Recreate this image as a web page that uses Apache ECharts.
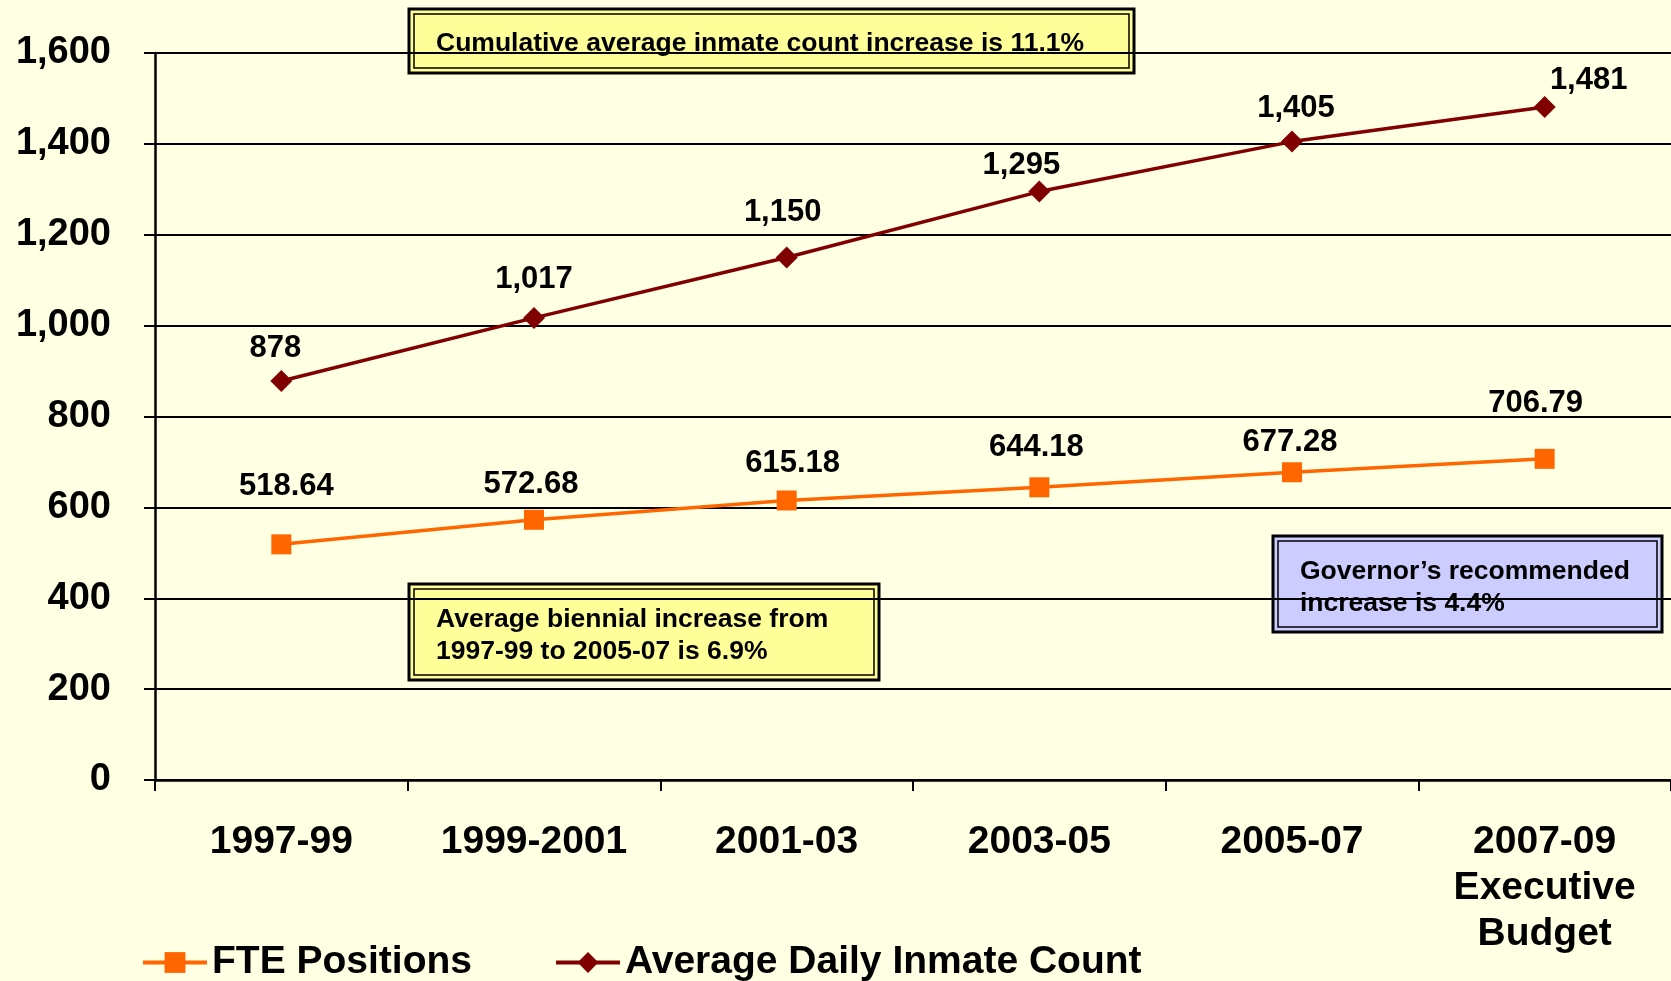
<!DOCTYPE html>
<html>
<head>
<meta charset="utf-8">
<script src="https://cdn.jsdelivr.net/npm/echarts@6/dist/echarts.min.js"></script>
<style>
	html, body { margin: 0; padding: 0; background: #FFFFE3; }
	#chart { width: 1671px; height: 981px; }
</style>
</head>
<body>
<div id="chart"></div>
<script>
// Data
const periods = ['1997-99', '1999-2001', '2001-03', '2003-05', '2005-07', '2007-09\nExecutive\nBudget'];
const ftePositions = [518.64, 572.68, 615.18, 644.18, 677.28, 706.79];
const inmateCount = [878, 1017, 1150, 1295, 1405, 1481];
const yTicks = [0, 200, 400, 600, 800, 1000, 1200, 1400, 1600];

// label nudges (px) so the numbers sit where the original put them
const fteLabelShift = [[5, -58], [-3, -35], [6, -37], [-3, -40], [-2, -30], [-9, -55]];
const inmateLabelShift = [[-6, -33], [0, -38], [-4, -45], [-18, -26], [4, -33], [44, -27]];

const FONT = '"Liberation Sans", Arial, sans-serif';

function withLabels(values, shifts, fmt) {
	return values.map(function (v, i) {
		return {
			value: v,
			label: { offset: shifts[i], formatter: fmt(v) }
		};
	});
}

function noteBox(x, y, w, h, fill, lines, textTop) {
	return {
		type: 'group',
		z: 100,
		children: [
			{ type: 'rect', shape: { x: x, y: y, width: w, height: h },
				style: { fill: fill, stroke: '#000', lineWidth: 3 } },
			{ type: 'rect', shape: { x: x + 5, y: y + 5, width: w - 10, height: h - 10 },
				style: { fill: 'none', stroke: '#000', lineWidth: 1.5 } },
			{ type: 'text', x: x + 27, y: textTop,
				style: { text: lines, fill: '#000', font: 'bold 26.5px ' + FONT, lineHeight: 32 } }
		]
	};
}

const chart = echarts.init(document.getElementById('chart'));

const option = {
	backgroundColor: '#FFFFE3',
	animation: false,
	grid: { left: 155, width: 1521, top: 53, bottom: 201, containLabel: false },
	legend: {
		left: 136,
		top: 938,
		itemWidth: 64,
		itemHeight: 26,
		itemGap: 82,
		lineStyle: { width: 4 },
		textStyle: { fontFamily: FONT, fontWeight: 'bold', fontSize: 39, color: '#000' },
		data: ['FTE Positions', 'Average Daily Inmate Count']
	},
	xAxis: {
		type: 'category',
		data: periods,
		boundaryGap: true,
		axisLine: { lineStyle: { color: '#000', width: 2.5 } },
		axisTick: { show: true, length: 11, lineStyle: { color: '#000', width: 2 } },
		axisLabel: {
			color: '#000', fontFamily: FONT, fontWeight: 'bold', fontSize: 39,
			lineHeight: 46, margin: 39, interval: 0
		}
	},
	yAxis: {
		type: 'value',
		min: yTicks[0],
		max: yTicks[yTicks.length - 1],
		interval: yTicks[1] - yTicks[0],
		axisLine: { show: true, lineStyle: { color: '#000', width: 2.5 } },
		axisTick: { show: true, length: 11, lineStyle: { color: '#000', width: 2 } },
		splitLine: { lineStyle: { color: '#000', width: 2 } },
		axisLabel: {
			color: '#000', fontFamily: FONT, fontWeight: 'bold', fontSize: 38, margin: 44,
			formatter: function (v) { return v.toLocaleString('en-US'); }
		}
	},
	series: [
		{
			name: 'FTE Positions',
			type: 'line',
			data: withLabels(ftePositions, fteLabelShift, function (v) { return v.toFixed(2); }),
			symbol: 'rect',
			symbolSize: 20,
			lineStyle: { color: '#FF6600', width: 3.5 },
			itemStyle: { color: '#FF6600' },
			label: {
				show: true, position: 'inside', color: '#000',
				fontFamily: FONT, fontWeight: 'bold', fontSize: 31
			},
			z: 3
		},
		{
			name: 'Average Daily Inmate Count',
			type: 'line',
			data: withLabels(inmateCount, inmateLabelShift, function (v) { return v.toLocaleString('en-US'); }),
			symbol: 'diamond',
			symbolSize: 22,
			lineStyle: { color: '#800000', width: 3.5 },
			itemStyle: { color: '#800000' },
			label: {
				show: true, position: 'inside', color: '#000',
				fontFamily: FONT, fontWeight: 'bold', fontSize: 31
			},
			z: 3
		}
	],
	graphic: [
		noteBox(409, 9, 725, 64, '#FFFF99', 'Cumulative average inmate count increase is 11.1%', 28),
		noteBox(409, 584, 470, 96, '#FFFF99', 'Average biennial increase from\n1997-99 to 2005-07 is 6.9%', 604),
		noteBox(1273, 536, 389, 96, '#CCCCFF', 'Governor\u2019s recommended\nincrease is 4.4%', 556)
	]
};

chart.setOption(option);
</script>
</body>
</html>
